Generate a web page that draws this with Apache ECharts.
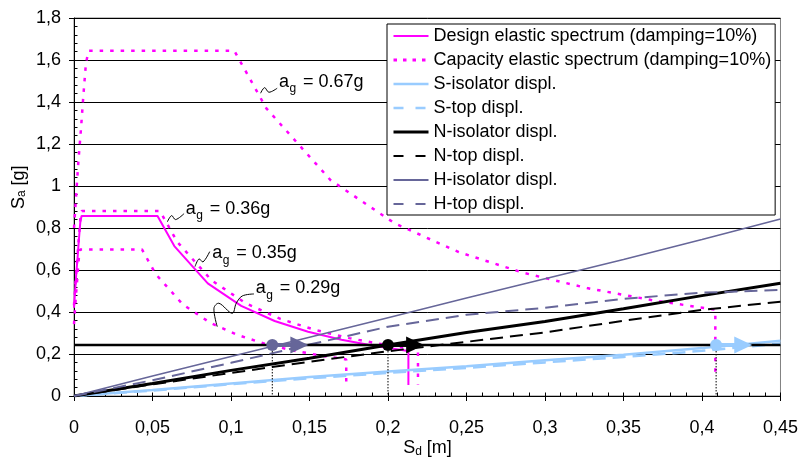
<!DOCTYPE html>
<html>
<head>
<meta charset="utf-8">
<title>ADRS spectra</title>
<script src="https://cdn.jsdelivr.net/npm/echarts@6/dist/echarts.min.js"></script>
<style>
  html, body { margin: 0; padding: 0; background: #fff; }
  #chart { width: 801px; height: 457px; }
</style>
</head>
<body>
<div id="chart"></div>
<script>
// spectra (Sd [m], Sa [g])
const designSd = [0, 0.0014, 0.0023, 0.0031, 0.0040, 0.0048, 0.0532, 0.0639, 0.0852, 0.1065, 0.1278, 0.1491, 0.1704, 0.1917, 0.2130, 0.2130, 0.2130];
const designSa = [0.42, 0.578, 0.661, 0.743, 0.826, 0.857, 0.857, 0.714, 0.536, 0.429, 0.357, 0.306, 0.268, 0.238, 0.214, 0.095, 0.052];
const cap67Sd = [0, 0.0027, 0.0044, 0.0059, 0.0076, 0.0093, 0.1021, 0.1225, 0.1634, 0.2043, 0.2451, 0.2860, 0.3268, 0.3677, 0.4085, 0.4085, 0.4085];
const cap67Sa = [0.80, 1.108, 1.267, 1.425, 1.584, 1.644, 1.644, 1.370, 1.028, 0.822, 0.685, 0.587, 0.514, 0.457, 0.411, 0.183, 0.103];
const cap36Sd = [0, 0.00144, 0.00237, 0.00319, 0.00411, 0.00494, 0.0547, 0.0657, 0.0876, 0.1095, 0.1315, 0.1534, 0.1753, 0.1972, 0.2191, 0.2191, 0.2191];
const cap36Sa = [0.432, 0.594, 0.680, 0.764, 0.850, 0.8815, 0.8815, 0.7345, 0.551, 0.441, 0.367, 0.315, 0.2755, 0.245, 0.220, 0.098, 0.055];
const cap29Sd = [0, 0.00114, 0.00187, 0.00252, 0.00326, 0.0039, 0.0433, 0.0520, 0.0693, 0.0867, 0.1040, 0.1214, 0.1387, 0.1560, 0.1734, 0.1734, 0.1734];
const cap29Sa = [0.342, 0.470, 0.538, 0.605, 0.672, 0.698, 0.698, 0.581, 0.436, 0.349, 0.291, 0.249, 0.218, 0.194, 0.174, 0.078, 0.044];

// displacement curves
const dispSd = [0, 0.05, 0.1, 0.15, 0.2, 0.25, 0.3, 0.35, 0.4, 0.45];
const sIso = [0, 0.028, 0.06, 0.09, 0.117, 0.142, 0.17, 0.197, 0.228, 0.263];
const sTop = [0, 0.026, 0.056, 0.084, 0.11, 0.134, 0.16, 0.186, 0.215, 0.25];
const nIso = [0, 0.06, 0.122, 0.18, 0.243, 0.302, 0.355, 0.415, 0.478, 0.537];
const nTop = [0, 0.055, 0.11, 0.163, 0.213, 0.258, 0.303, 0.358, 0.41, 0.449];
const hIso = [0, 0.095, 0.188, 0.28, 0.373, 0.467, 0.558, 0.65, 0.745, 0.843];
const hTop = [0, 0.075, 0.158, 0.245, 0.33, 0.387, 0.42, 0.463, 0.492, 0.505];

// horizontal level + relative displacement arrows
const levelSd = [0, 0.45];
const levelSa = 0.243;
const arrowStart = [0.1263, 0.2, 0.409];
const dRel = 0.023;

// annotations
const annLabels = ['0.67g', '0.36g', '0.35g', '0.29g'];
const annPos = [[0.1305, 1.497], [0.0712, 0.890], [0.0881, 0.680], [0.1157, 0.513]];

const names = [
  'Design elastic spectrum (damping=10%)',
  'Capacity elastic spectrum (damping=10%)',
  'S-isolator displ.',
  'S-top displ.',
  'N-isolator displ.',
  'N-top displ.',
  'H-isolator displ.',
  'H-top displ.'
];

const FONT = '"Liberation Sans", Arial, sans-serif';
const MAG = '#FF00FF', LBLUE = '#99CCFF', PURP = '#666699', BLK = '#000000';
const arrowColors = [PURP, BLK, LBLUE];
const DOT = [3.5, 7];
const DASH = [13, 7];

const zip = (xs, ys) => xs.map((x, i) => [x, ys[i]]);
const fmt = (v) => String(+v.toFixed(2)).replace('.', ',');

function line(name, data, color, width, type, z) {
  return {
    type: 'line', name, data, symbol: 'none', silent: true, z: z || 2,
    lineStyle: { color, width, type: type || 'solid' }, itemStyle: { color }
  };
}

// zigzag leaders, px offsets from the text anchor
const LEADERS = [
  [[-18.3, 11.6], [-14.3, 6], [-10, 10.6], [-1.7, 6.6]],
  [[-18.4, 12.7], [-14.2, 6.5], [-10.2, 10.5], [-1.7, 4.5]],
  [[-17.3, 13.4], [-13.3, 5.7], [-9.3, 8.7], [-2.6, -1.6]],
  [[-38.4, 38.4], [-41.7, 20], [-36.7, 15], [-23.4, 25], [-19.4, 15], [-13.4, 7.7], [-1.7, 5.7]]
];

const chart = echarts.init(document.getElementById('chart'));

const axisCommon = {
  type: 'value',
  splitLine: { show: false },
  minorTick: { show: false },
  axisLine: { show: true, onZero: false, lineStyle: { color: BLK, width: 1 } },
  axisTick: { show: true, length: 5, lineStyle: { color: BLK } },
  axisLabel: { fontSize: 18, color: BLK, fontFamily: FONT, formatter: fmt }
};
const innerTicks = {
  type: 'value',
  axisLine: { show: false },
  axisLabel: { show: false },
  splitLine: { show: false },
  axisTick: { show: true, inside: true, length: 3.5, lineStyle: { color: BLK } },
  minorTick: { show: true, splitNumber: 5, length: 3.5, lineStyle: { color: BLK } }
};

const option = {
  animation: false,
  backgroundColor: '#fff',
  grid: { left: 74, right: 18, top: 18, bottom: 61, show: true, borderColor: '#808080', borderWidth: 1 },
  xAxis: [
    Object.assign({}, axisCommon, { min: 0, max: 0.45, interval: 0.05, position: 'bottom',
      axisLabel: Object.assign({}, axisCommon.axisLabel, { margin: 23 }) }),
    Object.assign({}, innerTicks, { min: 0, max: 0.45, interval: 0.05, position: 'bottom' })
  ],
  yAxis: [
    Object.assign({}, axisCommon, { min: 0, max: 1.8, interval: 0.2, position: 'left',
      splitLine: { show: true, lineStyle: { color: BLK, width: 1 } },
      axisLabel: Object.assign({}, axisCommon.axisLabel, { margin: 13 }) }),
    Object.assign({}, innerTicks, { min: 0, max: 1.8, interval: 0.2, position: 'left' })
  ],
  legend: {
    orient: 'vertical', left: 387, top: 24, padding: [3, 4, 2, 5],
    itemGap: 6, itemWidth: 35, itemHeight: 14, selectedMode: false,
    backgroundColor: '#fff', borderColor: BLK, borderWidth: 1,
    itemStyle: { opacity: 0 },
    textStyle: { fontSize: 18, color: BLK, fontFamily: FONT },
    data: [
      { name: names[0], lineStyle: { width: 2 } },
      { name: names[1], lineStyle: { width: 3, type: [3.5, 6] } },
      { name: names[2], lineStyle: { width: 2.5 } },
      { name: names[3], lineStyle: { width: 2.5, type: [10, 12] } },
      { name: names[4], lineStyle: { width: 3 } },
      { name: names[5], lineStyle: { width: 2, type: [10, 12] } },
      { name: names[6], lineStyle: { width: 2 } },
      { name: names[7], lineStyle: { width: 2, type: [10, 12] } }
    ]
  },
  graphic: [
    // axis titles
    { type: 'group', x: 19, y: 187, rotation: Math.PI / 2, children: [
      { type: 'text', x: -22, y: 0, style: { text: 'S', fontSize: 18, fontFamily: FONT, fill: BLK, verticalAlign: 'middle' } },
      { type: 'text', x: -10, y: 3, style: { text: 'a', fontSize: 12, fontFamily: FONT, fill: BLK, verticalAlign: 'middle' } },
      { type: 'text', x: -3.5, y: 0, style: { text: ' [g]', fontSize: 18, fontFamily: FONT, fill: BLK, verticalAlign: 'middle' } }
    ] },
    { type: 'group', x: 427.5, y: 448.5, children: [
      { type: 'text', x: -24.2, y: 0, style: { text: 'S', fontSize: 18, fontFamily: FONT, fill: BLK, verticalAlign: 'middle' } },
      { type: 'text', x: -12.2, y: 3, style: { text: 'd', fontSize: 12, fontFamily: FONT, fill: BLK, verticalAlign: 'middle' } },
      { type: 'text', x: -5.8, y: 0, style: { text: ' [m]', fontSize: 18, fontFamily: FONT, fill: BLK, verticalAlign: 'middle' } }
    ] },
    // D_Rel box
    { type: 'group', x: 0, y: 0, z: 100, children: [
      { type: 'rect', shape: { x: 650.5, y: 78.5, width: 108, height: 120 }, style: { fill: '#fff', stroke: BLK, lineWidth: 1 } },
      { type: 'text', x: 655, y: 95, style: { text: 'D', fontSize: 18, fontFamily: FONT, fill: BLK, verticalAlign: 'middle' } },
      { type: 'text', x: 666, y: 101.5, style: { text: 'Rel.', fontSize: 12, fontFamily: FONT, fill: BLK, verticalAlign: 'middle' } },
      { type: 'text', x: 688, y: 95, style: { text: '= 2.3cm', fontSize: 18, fontFamily: FONT, fill: BLK, verticalAlign: 'middle' } }
    ].concat(...[LBLUE, BLK, PURP].map((c, i) => {
      const yy = [122.7, 152.7, 181.7][i];
      return [
        { type: 'line', shape: { x1: 686.7, y1: yy, x2: 710, y2: yy }, style: { stroke: c, lineWidth: 4 } },
        { type: 'polygon', shape: { points: [[709, yy - 8], [723, yy], [709, yy + 8]] }, style: { fill: c } },
        { type: 'circle', shape: { cx: 686.7, cy: yy, r: 6 }, style: { fill: c } }
      ];
    })) }
  ],
  series: [
    line(names[0], zip(designSd, designSa), MAG, 2, 'solid', 3),
    line(names[1], zip(cap67Sd, cap67Sa), MAG, 2.5, DOT, 3),
    line(names[1], zip(cap36Sd, cap36Sa), MAG, 2.5, DOT, 3),
    line(names[1], zip(cap29Sd, cap29Sa), MAG, 2.5, DOT, 3),
    line(names[2], zip(dispSd, sIso), LBLUE, 2.5, 'solid', 4),
    line(names[3], zip(dispSd, sTop), LBLUE, 2.5, DASH, 4),
    line(names[4], zip(dispSd, nIso), BLK, 3, 'solid', 4),
    line(names[5], zip(dispSd, nTop), BLK, 2, DASH, 4),
    line(names[6], zip(dispSd, hIso), PURP, 1.5, 'solid', 4),
    line(names[7], zip(dispSd, hTop), PURP, 2, DASH, 4),
    line('level', levelSd.map((x) => [x, levelSa]), BLK, 2.5, 'solid', 5),
    {
      type: 'custom', name: 'arrows', z: 6, silent: true, clip: false,
      data: arrowStart.map((x, i) => [x, levelSa, i]),
      encode: { x: 0, y: 1 },
      renderItem: function (params, api) {
        const x0 = api.value(0), y0 = api.value(1), c = arrowColors[api.value(2)];
        const p0 = api.coord([x0, y0]);
        const p1 = api.coord([x0 + dRel, y0]);
        const pb = api.coord([x0, 0]);
        const head = 18, half = 8.5;
        return { type: 'group', children: [
          { type: 'line', shape: { x1: p0[0], y1: p0[1], x2: pb[0], y2: pb[1] }, style: { stroke: BLK, lineWidth: 1, lineDash: [1.5, 1.5] } },
          { type: 'line', shape: { x1: p0[0], y1: p0[1], x2: p1[0] - head + 1, y2: p1[1] }, style: { stroke: c, lineWidth: 4 } },
          { type: 'polygon', shape: { points: [[p1[0] - head, p1[1] - half], [p1[0], p1[1]], [p1[0] - head, p1[1] + half]] }, style: { fill: c } },
          { type: 'circle', shape: { cx: p0[0], cy: p0[1], r: 6 }, style: { fill: c } }
        ] };
      }
    },
    {
      type: 'custom', name: 'notes', z: 7, silent: true, clip: false,
      data: annPos.map((p, i) => [p[0], p[1], i]),
      encode: { x: 0, y: 1 },
      renderItem: function (params, api) {
        const i = api.value(2);
        const p = api.coord([api.value(0), api.value(1)]);
        const pts = LEADERS[i].map((o) => [p[0] + o[0], p[1] + o[1]]);
        return { type: 'group', children: [
          { type: 'polyline', shape: { points: pts, smooth: 0.35 }, style: { stroke: BLK, lineWidth: 1, fill: null } },
          { type: 'text', x: p[0], y: p[1], style: { text: 'a', fontSize: 18, fontFamily: FONT, fill: BLK, verticalAlign: 'middle' } },
          { type: 'text', x: p[0] + 10.5, y: p[1] + 7, style: { text: 'g', fontSize: 12, fontFamily: FONT, fill: BLK, verticalAlign: 'middle' } },
          { type: 'text', x: p[0] + 24, y: p[1], style: { text: '= ' + annLabels[i], fontSize: 18, fontFamily: FONT, fill: BLK, verticalAlign: 'middle' } }
        ] };
      }
    }
  ]
};

chart.setOption(option);
</script>
</body>
</html>
